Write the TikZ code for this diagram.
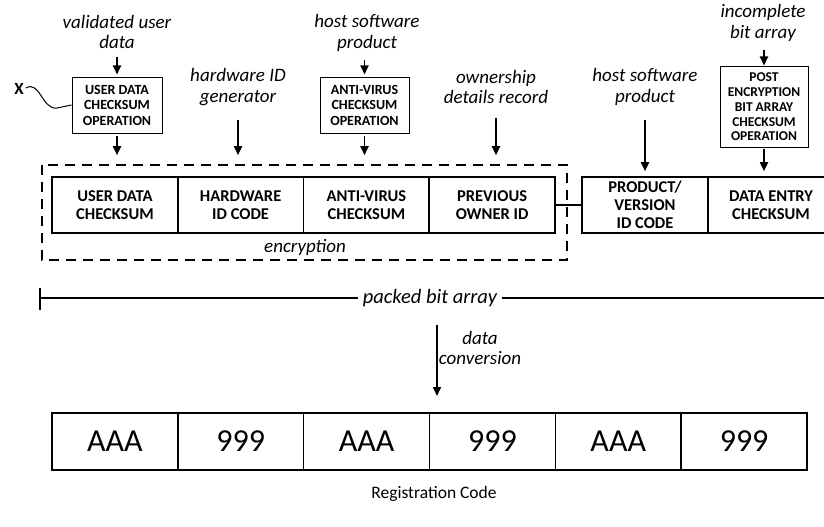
\documentclass[tikz,border=0pt]{standalone}
\usepackage{fontspec}
\setmainfont{Carlito}
\usetikzlibrary{arrows.meta}
\begin{document}
\begin{tikzpicture}[x=1pt,y=-1pt,
  ibox/.style={draw, line width=1.6pt, minimum width=125.75pt, minimum height=56pt, inner sep=0pt, align=center, font=\fontsize{16.5}{18}\selectfont\bfseries},
  opbox/.style={draw, line width=1pt, inner sep=0pt, align=center, font=\fontsize{14}{15.5}\selectfont\bfseries},
  lbl/.style={align=center, inner sep=0pt, font=\fontsize{19}{20.5}\selectfont\itshape},
  arr/.style={-{Triangle[length=9pt,width=8pt]}, line width=1.8pt},
  codebox/.style={draw, line width=1.6pt, minimum width=125.83pt, minimum height=57pt, inner sep=0pt, font=\fontsize{32}{34}\selectfont},
  dashbox/.style={draw, line width=1.6pt, dash pattern=on 10pt off 7pt}
]
\useasboundingbox (0,0) rectangle (824,527);
\clip (0,0) rectangle (824,527);

% top labels
\node[lbl] (vud) at (117,32) {validated user\\data};
\node[lbl] (hw) at (238,87) {hardware ID\\generator};
\node[lbl] (hsp) at (367,33) {host software\\product};
\node[lbl] (own) at (496,87) {ownership\\details record};
\node[lbl] (hsp2) at (645,87) {host software\\product};
\node[lbl] (inc) at (763,23) {incomplete\\bit array};

% operation boxes
\node[opbox, minimum width=90pt, minimum height=56pt] (op1) at (117,105) {USER DATA\\CHECKSUM\\OPERATION};
\node[opbox, minimum width=89pt, minimum height=56pt] (op2) at (364.5,105) {ANTI-VIRUS\\CHECKSUM\\OPERATION};
\node[opbox, minimum width=88pt, minimum height=80pt, font=\fontsize{13.5}{14.7}\selectfont\bfseries] (op3) at (764,107) {POST\\ENCRYPTION\\BIT ARRAY\\CHECKSUM\\OPERATION};

% X label
\node[inner sep=0pt, font=\fontsize{17}{17}\selectfont\bfseries] (X) at (19,89) {X};
\draw[line width=1pt] (X.east) ++(2,-1) .. controls (40,80) and (42,110) .. (57,108) .. controls (64,107) .. (op1.west);

% inner boxes
\node[ibox] (i1) at (114.9,205) {USER DATA\\CHECKSUM};
\node[ibox] (i2) at (240.6,205) {HARDWARE\\ID CODE};
\node[ibox] (i3) at (366.4,205) {ANTI-VIRUS\\CHECKSUM};
\node[ibox] (i4) at (492.1,205) {PREVIOUS\\OWNER ID};
\node[ibox, minimum width=126pt] (p1) at (645,205) {PRODUCT/\\VERSION\\ID CODE};
\node[ibox, minimum width=126pt] (p2) at (771,205) {DATA ENTRY\\CHECKSUM};
\draw[line width=1.5pt] (i4.east) -- (p1.west);

% dashed encryption box
\coordinate (d1) at (42,165);
\coordinate (d2) at (567,260);
\draw[dashbox] (d1) rectangle (d2);
\node[lbl] (enc) at (305,247) {encryption};

% arrows
\draw[arr, shorten <=8pt, shorten >=2pt] (vud.south -| op1.north) -- (op1.north);
\draw[arr, shorten <=2pt, shorten >=21pt] (op1.south) -- (op1.south |- i1.north);
\draw[arr, shorten <=14pt, shorten >=21pt] (hw.south) -- (hw.south |- i2.north);
\draw[arr, shorten <=8pt, shorten >=2pt] (hsp.south -| op2.north) -- (op2.north);
\draw[arr, shorten <=2pt, shorten >=21pt] (op2.south) -- (op2.south |- i3.north);
\draw[arr, shorten <=14pt, shorten >=21pt] (own.south) -- (own.south |- i4.north);
\draw[arr, shorten <=14pt, shorten >=5pt] (hsp2.south) -- (hsp2.south |- p1.north);
\draw[arr, shorten <=8pt, shorten >=1pt] (inc.south -| op3.north) -- (op3.north);
\draw[arr, shorten <=1pt, shorten >=5pt] (op3.south) -- (op3.south |- p2.north);

% packed bit array
\node[lbl, inner sep=5pt, font=\fontsize{20.5}{22}\selectfont\itshape] (packed) at (430,298) {packed bit array};
\coordinate (pl) at (40,298);
\coordinate (pt) at (40,288);
\coordinate (pb) at (40,310);
\coordinate (pr) at (826,298);
\draw[line width=1.8pt] (pt) -- (pb);
\draw[line width=1.8pt] (pl) -- (packed.west);
\draw[line width=1.8pt] (packed.east) -- (pr);

% data conversion
\coordinate (dc1) at (437,325);
\coordinate (dc2) at (437,396);
\draw[arr] (dc1) -- (dc2);
\node[lbl] (dconv) at (480,348) {data\\conversion};

% code boxes
\node[codebox] (c1) at (114.9,441.5) {AAA};
\node[codebox] (c2) at (240.75,441.5) {999};
\node[codebox] (c3) at (366.6,441.5) {AAA};
\node[codebox] (c4) at (492.4,441.5) {999};
\node[codebox] (c5) at (618.25,441.5) {AAA};
\node[codebox] (c6) at (744.1,441.5) {999};

\node[inner sep=0pt, font=\fontsize{17.5}{20}\selectfont] (reg) at (434,494) {Registration Code};
\end{tikzpicture}
\end{document}
